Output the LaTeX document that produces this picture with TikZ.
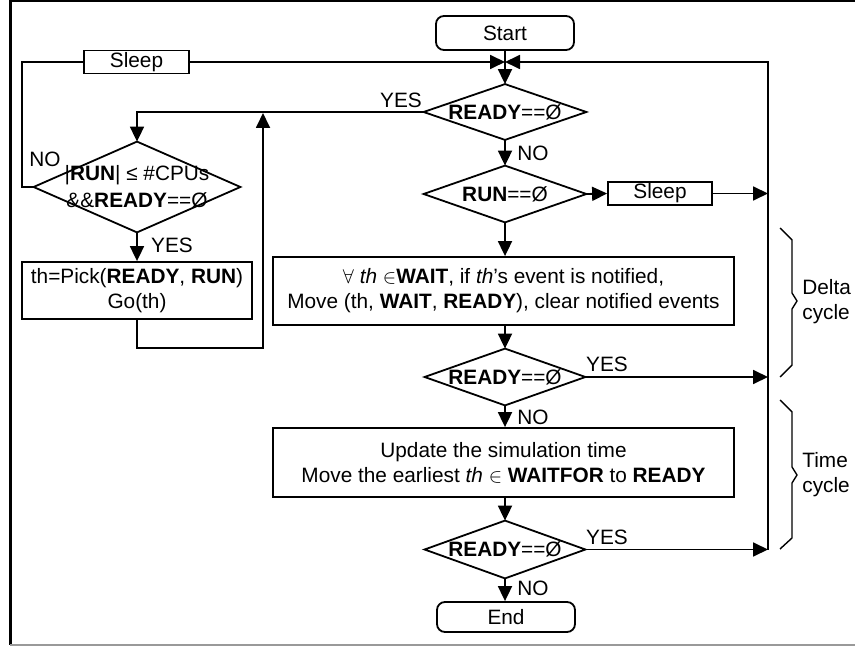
\documentclass[tikz,border=0pt]{standalone}
\usepackage{fontspec}
\setmainfont{Liberation Sans}
\usetikzlibrary{arrows.meta}
\begin{document}
\begin{tikzpicture}[x=0.5pt,y=-0.5pt,
  font=\fontsize{10.4}{12.6}\selectfont,
  every node/.style={inner sep=0pt, align=center},
  line/.style={line width=0.9pt},
  arr/.style={line, -{Triangle[length=7.5pt,width=7pt]}},
  box/.style={draw, line width=0.9pt, rectangle},
  term/.style={box, rounded corners=4pt},
  dia/.style={rectangle},
  brace/.style={line width=0.7pt, line join=round}]

% frame of the figure
\useasboundingbox (0,0) rectangle (855,646);
\draw[line width=1.5pt] (855,1) -- (10,1) -- (10,645);
\draw[line width=1pt, gray!80] (10,645) -- (855,645);

% main column
\node[term, minimum width=69pt, minimum height=17pt] (start) at (505,33) {Start};
\node[dia, minimum width=81pt, minimum height=27.5pt] (d1) at (505,112) {\textbf{READY}==Ø};
\node[dia, minimum width=81pt, minimum height=28pt] (d2) at (505,194) {\textbf{RUN}==Ø};
\node[box, minimum width=52pt, minimum height=11.5pt] (sleepB) at (660,193.5) {Sleep};
\node[box, minimum width=230.5pt, minimum height=34pt] (delta) at (503.5,291)
  {$\forall$ \textit{th} $\in$\textbf{WAIT}, if \textit{th}’s event is notified,\\
   Move (th, \textbf{WAIT}, \textbf{READY}), clear notified events};
\node[dia, minimum width=80pt, minimum height=28pt] (d3) at (505,377) {\textbf{READY}==Ø};
\node[box, minimum width=230.5pt, minimum height=34.5pt] (time) at (503.5,462.5)
  {Update the simulation time\\
   Move the earliest \textit{th} $\in$ \textbf{WAITFOR} to \textbf{READY}};
\node[dia, minimum width=80pt, minimum height=28.5pt] (d4) at (505,549.5) {\textbf{READY}==Ø};
\node[term, minimum width=69pt, minimum height=15pt] (end) at (506,617) {End};

% left loop
\node[box, minimum width=52.5pt, minimum height=11.5pt] (sleepA) at (136.5,62) {Sleep};
\node[dia, minimum width=103pt, minimum height=45pt] (dl) at (137,187)
  {|\textbf{RUN}| ≤ \#CPUs\\[1pt] \&\&\textbf{READY}==Ø};
\node[box, minimum width=115pt, minimum height=28.5pt] (pick) at (137,290.5)
  {th=Pick(\textbf{READY}, \textbf{RUN})\\ Go(th)};

% decision outlines
\foreach \n in {d1,d2,d3,d4,dl}
  \draw[line] (\n.north) -- (\n.east) -- (\n.south) -- (\n.west) -- cycle;

% junction points
\coordinate (m) at (505,62);
\coordinate (rx) at (768,62);
\coordinate (lx) at (22,62);
\coordinate (jx) at (263,113);

% connectors of the main column (all on the column axis)
\draw[arr] (start.south -| d1.north) -- (d1.north);
\draw[arr] (d1.south) -- (d2.north);
\draw[arr] (d2.east) -- (sleepB.west);
\draw[arr] (sleepB.east) -- (sleepB.east -| rx);
\draw[arr] (d2.south) -- (d2.south |- delta.north);
\draw[arr] (d3.north |- delta.south) -- (d3.north);
\draw[arr] (d3.east) -- (d3.east -| rx);
\draw[arr] (d3.south) -- (d3.south |- time.north);
\draw[arr] (d4.north |- time.south) -- (d4.north);
\draw[arr] (d4.east) -- (d4.east -| rx);
\draw[arr] (d4.south) -- (d4.south |- end.north);
\draw[arr] (d4.east -| rx) |- (m);

% connectors of the left loop
\draw[arr] (d1.west) -| (dl.north);
\draw[arr] (dl.south) -- (pick.north);
\draw[arr] (pick.south) -- ++(0,28) -| (jx);
\draw[line] (dl.west) -- (dl.west -| lx) |- (sleepA.west);
\draw[arr] (sleepA.east) -- (m);

% branch labels
\node (y1) at (401,100) {YES};
\node (n1) at (533,153) {NO};
\node (nl) at (45,159) {NO};
\node (yl) at (172,245) {YES};
\node (y3) at (607,364) {YES};
\node (n3) at (533,417) {NO};
\node (y4) at (607,537) {YES};
\node (n4) at (533,588) {NO};

% cycle braces
\draw[brace] (780,228) -- (792,240) -- (792,293) -- (797,301) -- (792,309) -- (792,365) -- (780,377);
\draw[brace] (780,400) -- (792,412) -- (792,467) -- (797,475) -- (792,483) -- (792,538) -- (780,549);
\node[anchor=west, align=left] (dc) at (802,302) {Delta\\cycle};
\node[anchor=west, align=left] (tc) at (802,475) {Time\\cycle};
\end{tikzpicture}
\end{document}
